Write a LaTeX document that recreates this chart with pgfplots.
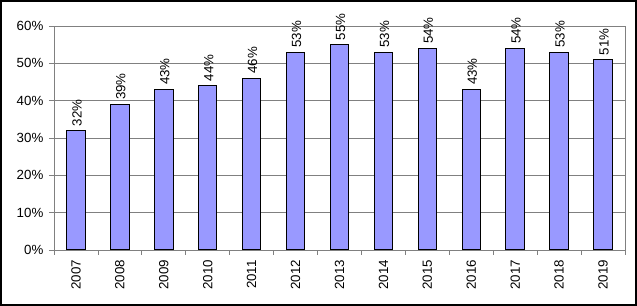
\documentclass[border=0pt]{standalone}
\usepackage{fontspec}
\setmainfont{Liberation Sans}
\usepackage{pgfplots}
\pgfplotsset{compat=1.18}
\definecolor{barfill}{HTML}{9999FF}
\definecolor{gridgray}{HTML}{808080}
\begin{document}
\fontsize{13.3bp}{16bp}\selectfont
\begin{tikzpicture}
\useasboundingbox (0,0) rectangle (637bp,306bp);
\draw[line width=2bp, black] (1bp,1bp) rectangle (636bp,305bp);
\begin{axis}[
  at={(54bp,56bp)}, anchor=south west,
  width=571bp, height=224bp, scale only axis,
  xmin=-0.5, xmax=12.5, ymin=0, ymax=60,
  ytick={0,10,20,30,40,50,60},
  yticklabel={\pgfmathprintnumber{\tick}\%},
  /pgf/number format/assume math mode=true,
  xtick={-0.5,0.5,...,12.5}, xticklabels={},
  extra x ticks={0,1,2,3,4,5,6,7,8,9,10,11,12},
  extra x tick labels={2007,2008,2009,2010,2011,2012,2013,2014,2015,2016,2017,2018,2019},
  extra x tick style={major tick length=0pt, grid=none,
     tick label style={rotate=90, anchor=east, inner sep=1bp}},
  xticklabel shift=9bp,
  xtick pos=bottom, ytick pos=left,
  tick align=outside, major tick length=5bp,
  ymajorgrids, major grid style={gridgray, line width=0.8bp},
  axis line style={gridgray, line width=0.8bp},
  tick style={gridgray, line width=0.8bp},
  tick label style={font=\fontsize{13.3bp}{16bp}\selectfont, black},
  yticklabel style={xshift=-1bp},
  ybar, bar width=18.5bp,
  nodes near coords={\pgfmathprintnumber{\pgfplotspointmeta}\%},
  every node near coord/.append style={rotate=90, anchor=west, font=\fontsize{13.3bp}{16bp}\selectfont, inner sep=4bp, yshift=-1bp, /pgf/number format/assume math mode=true},
]
\addplot[fill=barfill, draw=black, line width=1bp] coordinates {
(0,32) (1,39) (2,43) (3,44) (4,46) (5,53) (6,55) (7,53) (8,54) (9,43) (10,54) (11,53) (12,51)
};
\draw[gridgray, line width=0.8bp] (rel axis cs:1,0) -- (rel axis cs:1,1) -- (rel axis cs:0,1);
\end{axis}
\end{tikzpicture}
\end{document}
